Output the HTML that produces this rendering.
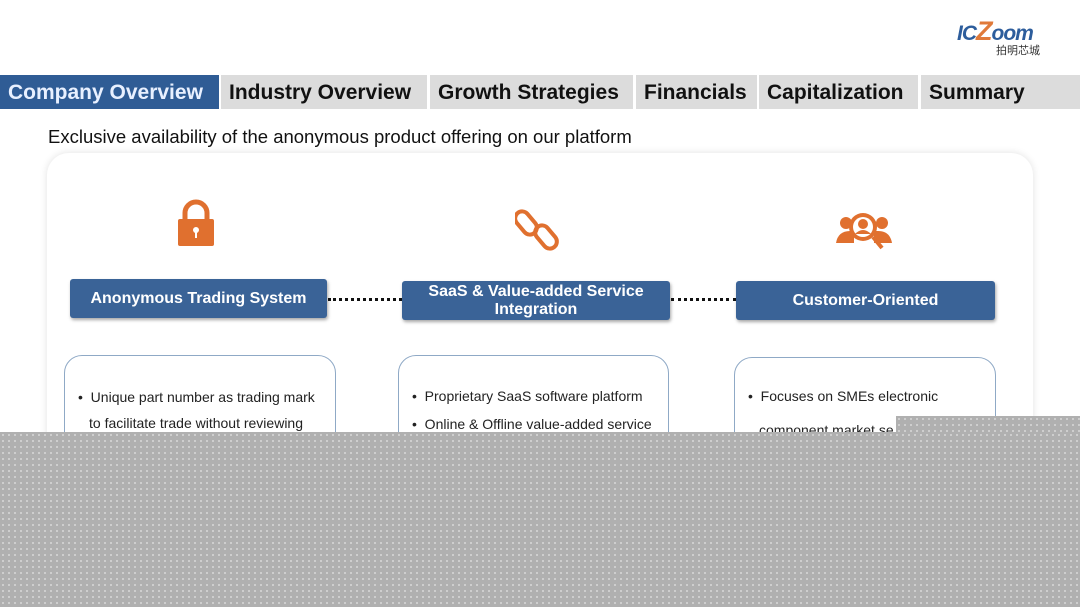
<!DOCTYPE html>
<html><head><meta charset="utf-8"><style>
*{margin:0;padding:0;box-sizing:border-box}
body{width:1080px;height:607px;position:relative;background:#fff;font-family:"Liberation Sans",Arial,sans-serif;overflow:hidden}
.a{position:absolute}
.tab{position:absolute;top:75px;height:34px;background:#dcdcdc;font-family:"Liberation Sans",sans-serif;font-weight:bold;font-size:21px;line-height:36px;padding-left:8px;color:#111;white-space:nowrap;overflow:hidden}
.hb{position:absolute;background:#3a6397;color:#fff;font-weight:bold;font-size:16px;text-align:center;border-radius:3px;box-shadow:1px 2px 3px rgba(0,0,0,.35);display:flex;align-items:center;justify-content:center;line-height:18px}
.card{position:absolute;border:1.5px solid #8fa9c6;border-radius:18px;background:#fff;font-size:14px;color:#222}
.card p{position:absolute;left:13px;white-space:nowrap}
.dot{position:absolute;border-top:3px dotted #111;height:0}
.ov{position:absolute;background-color:#b0b0b0;background-image:radial-gradient(circle,#f4f4f4 0.6px,transparent 0.9px);background-size:6px 6px}
</style></head><body>
<div class="a" style="left:957px;top:18px;font:italic bold 21px 'Liberation Sans',sans-serif;color:#2d5d9c;letter-spacing:-1px;line-height:26px">IC<span style="color:#e07a3a;font-size:27px">Z</span>oom</div>
<div class="a" style="left:996px;top:44px;font:11px 'Noto Sans CJK SC',sans-serif;color:#333;line-height:13px">拍明芯城</div>

<div class="tab" style="left:0;width:219px;background:#2f5c95;color:#e8f0ff">Company Overview</div>
<div class="tab" style="left:221px;width:206px">Industry Overview</div>
<div class="tab" style="left:430px;width:203px">Growth Strategies</div>
<div class="tab" style="left:636px;width:121px">Financials</div>
<div class="tab" style="left:759px;width:159px">Capitalization</div>
<div class="tab" style="left:921px;width:159px">Summary</div>

<div class="a" style="left:48px;top:126px;font-size:18.5px;color:#111;white-space:nowrap">Exclusive availability of the anonymous product offering on our platform</div>

<div class="a" style="left:47px;top:153px;width:986px;height:400px;border-radius:22px;background:#fff;box-shadow:0 0 8px rgba(0,0,0,.12)"></div>

<svg class="a" style="left:176px;top:199px" width="40" height="48" viewBox="0 0 40 48"><path d="M9 22V14a11 11 0 0 1 22 0v8" fill="none" stroke="#e0702f" stroke-width="5"/><rect x="2" y="20" width="36" height="27" rx="2" fill="#e0702f"/><circle cx="20" cy="31" r="3" fill="#fff"/><rect x="19" y="32" width="2" height="7" fill="#fff"/></svg>
<svg class="a" style="left:515px;top:206px" width="50" height="48" viewBox="0 0 50 48"><rect x="4" y="4" width="14" height="26" rx="7" transform="rotate(-40 11 17)" fill="none" stroke="#e0702f" stroke-width="4"/><rect x="24" y="18" width="14" height="26" rx="7" transform="rotate(-40 31 31)" fill="none" stroke="#e0702f" stroke-width="4"/></svg>
<svg class="a" style="left:836px;top:209px" width="56" height="44" viewBox="0 0 56 44"><circle cx="10" cy="14" r="6" fill="#e0702f"/><circle cx="46" cy="14" r="6" fill="#e0702f"/><path d="M0 34q2-12 14-12h4v12z" fill="#e0702f"/><path d="M56 34q-2-12-14-12h-4v12z" fill="#e0702f"/><circle cx="27" cy="18" r="14" fill="#e0702f"/><circle cx="27" cy="18" r="10" fill="#fff"/><circle cx="27" cy="15" r="5" fill="#e0702f"/><path d="M19 25q8-8 16 0z" fill="#e0702f"/><line x1="37" y1="28" x2="46" y2="39" stroke="#e0702f" stroke-width="4"/></svg>

<div class="hb" style="left:70px;top:279px;width:257px;height:39px">Anonymous Trading System</div>
<div class="hb" style="left:402px;top:281px;width:268px;height:39px">SaaS &amp; Value-added Service<br>Integration</div>
<div class="hb" style="left:736px;top:281px;width:259px;height:39px">Customer-Oriented</div>
<div class="dot" style="left:328px;top:298px;width:74px"></div>
<div class="dot" style="left:671px;top:298px;width:65px"></div>

<div class="card" style="left:64px;top:355px;width:272px;height:200px"><p style="top:33px">•&nbsp; Unique part number as trading mark</p><p style="top:59px;left:24px">to facilitate trade without reviewing</p></div>
<div class="card" style="left:398px;top:355px;width:271px;height:200px"><p style="top:32px">•&nbsp; Proprietary SaaS software platform</p><p style="top:60px">•&nbsp; Online &amp; Offline value-added service</p></div>
<div class="card" style="left:734px;top:357px;width:262px;height:200px"><p style="top:30px">•&nbsp; Focuses on SMEs electronic</p><p style="top:64px;left:24px">component market se</p></div>

<div class="ov" style="left:896px;top:416px;width:184px;height:20px"></div>
<div class="ov" style="left:0;top:432px;width:1080px;height:175px"></div>
</body></html>
